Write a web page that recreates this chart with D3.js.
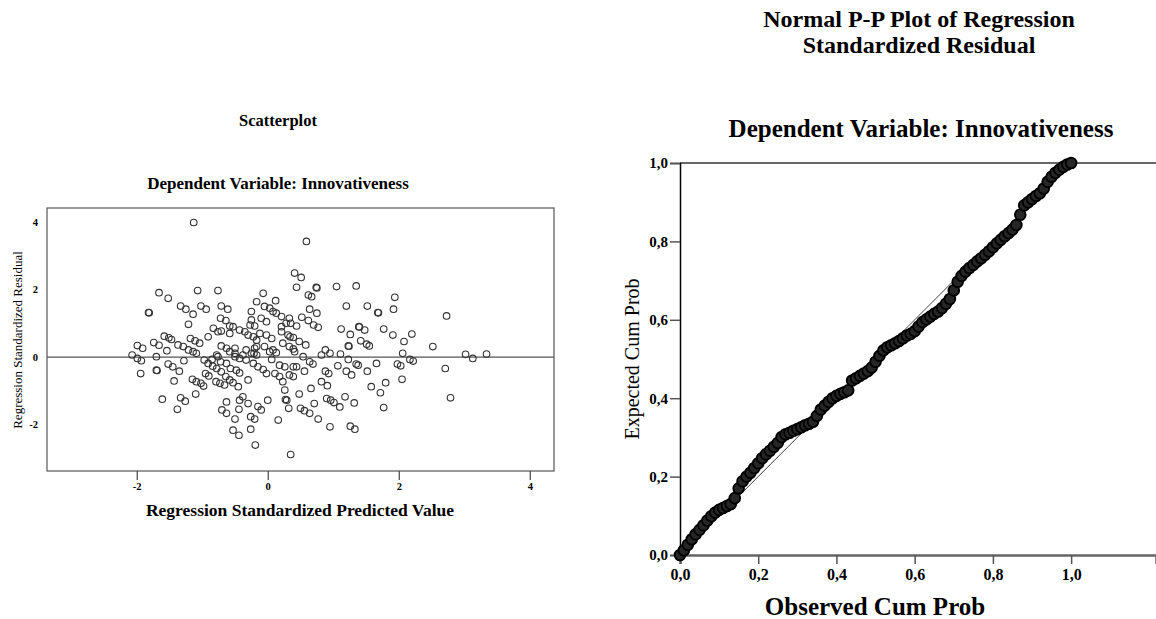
<!DOCTYPE html>
<html>
<head>
<meta charset="utf-8">
<script src="https://cdn.jsdelivr.net/npm/d3@7"></script>
<style>
  body { margin: 0; background: #fff; }
  svg { display: block; font-family: "Liberation Serif", "Times New Roman", serif; }
</style>
</head>
<body>
<div id="chart"></div>
<script>
// scatterplot: standardized predicted value vs standardized residual
const predicted = [
  -1.13,-1.66,-1.52,-1.82,-1.81,-1.07,-0.76,-1.33,-1.25,-1.14,-1.21,-1.02,-0.94,-0.71,-0.61,-0.72,-0.64,-0.25,-0.07,-0.17,
  0.12,-0.05,0.03,0.08,0.13,0.21,-0.25,-0.10,-0.02,-0.27,-0.20,-0.58,-0.53,-0.83,-0.76,-0.71,-0.58,-0.43,-0.35,-0.30,
  -0.22,-0.17,-0.12,-0.02,0.06,0.21,0.28,0.33,0.21,0.31,0.39,0.23,0.33,0.41,0.08,0.13,0.03,-0.05,-0.17,-0.20,
  -0.33,-0.25,-0.17,-0.38,-0.50,-0.50,-0.71,-0.63,-0.58,-0.78,-0.76,-0.91,-1.18,-1.11,-1.04,-1.37,-1.29,-1.21,-1.14,-1.09,
  -1.58,-1.51,-1.47,-1.74,-1.66,-1.54,-1.99,-1.91,-2.07,-1.99,-1.93,-1.94,-1.70,-1.70,-1.69,-1.52,-1.45,-1.35,-1.43,-1.28,
  -1.61,-1.33,-1.26,-1.38,-1.15,-1.09,-1.02,-0.98,-1.10,-0.95,-0.90,-0.97,-0.91,-0.84,-0.78,-0.71,-0.64,-0.58,-0.53,-0.45,
  -0.79,-0.73,-0.66,-0.85,-0.72,-0.63,-0.57,-0.48,-0.43,-0.30,-0.50,-0.43,-0.33,-0.22,-0.15,-0.07,-0.02,0.11,0.18,0.23,
  0.26,0.33,0.39,0.06,0.18,0.26,-0.21,-0.38,-0.43,-0.30,-0.63,-0.70,-0.63,-0.44,-0.50,-0.26,-0.20,-0.15,-0.10,0.00,
  0.16,0.27,0.32,-0.53,-0.44,-0.26,-0.19,0.35,
  0.59,0.41,0.51,0.44,0.74,0.75,1.05,1.35,0.62,0.67,0.64,0.75,0.52,0.62,0.35,0.44,0.70,0.77,1.20,1.52,
  1.68,1.69,1.94,1.92,1.12,1.26,1.39,1.40,1.48,1.42,1.51,1.55,1.23,1.24,1.77,1.91,2.08,2.20,2.73,2.52,
  3.02,3.13,3.34,2.06,2.17,2.22,1.98,2.03,2.05,2.71,2.79,0.88,0.95,1.11,0.82,1.23,1.35,1.38,1.66,1.07,
  1.20,1.28,1.52,0.88,0.93,0.69,0.64,0.54,0.39,0.58,0.48,0.34,0.44,0.56,0.39,0.82,0.91,0.66,0.48,0.29,
  0.71,0.90,0.96,1.01,1.10,1.18,1.32,1.58,1.72,1.80,1.77,0.50,0.56,0.64,0.77,0.95,1.26,1.33
];
const residual = [
  3.99,1.91,1.74,1.32,1.31,1.97,1.97,1.51,1.42,1.27,0.97,1.51,1.42,1.51,1.42,1.15,1.08,1.35,1.89,1.64,
  1.67,1.50,1.45,1.35,1.30,1.20,1.10,1.15,1.05,0.95,0.92,0.92,0.90,0.85,0.75,0.77,0.70,0.80,0.75,0.65,
  0.60,0.50,0.70,0.65,0.55,0.90,1.00,1.15,0.75,0.65,0.58,0.41,0.31,0.16,0.21,0.13,0.16,0.31,0.31,0.26,
  0.21,0.11,0.06,0.06,0.11,0.26,0.33,0.26,0.16,0.06,0.01,0.60,0.55,0.48,0.41,0.36,0.31,0.21,0.16,0.11,
  0.62,0.57,0.52,0.43,0.35,0.19,0.34,0.26,0.06,-0.04,-0.11,-0.49,0.01,-0.39,-0.40,-0.21,-0.29,-0.42,-0.71,-0.11,
  -1.25,-1.21,-1.31,-1.55,-0.66,-0.73,-0.78,-0.86,-1.10,-0.49,-0.56,-0.09,-0.19,-0.27,-0.34,-0.44,-0.58,-0.68,-0.76,-0.88,
  -0.73,-0.78,-0.83,-0.07,-0.14,-0.19,-0.34,-0.39,-0.47,-0.68,0.01,-0.04,-0.09,-0.19,-0.29,-0.37,-0.49,-0.49,-0.58,-0.73,
  -0.98,-0.53,-0.29,-0.07,-0.24,-0.29,0.11,-1.18,-1.28,-1.38,-1.33,-1.57,-1.67,-1.55,-1.84,-1.77,-1.84,-1.47,-1.57,-1.28,
  -1.87,-1.26,-1.52,-2.17,-2.32,-2.14,-2.61,-2.89,
  3.43,2.49,2.36,2.07,2.07,2.05,2.09,2.11,1.84,1.79,1.42,1.30,1.18,1.08,1.00,0.92,0.95,0.88,1.51,1.51,
  1.32,1.31,1.77,1.42,0.83,0.67,0.90,0.89,0.80,0.48,0.38,0.33,0.33,0.32,0.83,0.65,0.46,0.68,1.22,0.31,
  0.08,-0.04,0.09,0.11,-0.07,-0.12,-0.21,-0.26,-0.66,-0.34,-1.21,0.21,0.11,0.09,0.06,-0.07,-0.21,-0.24,-0.19,-0.26,
  -0.42,-0.53,-0.42,-0.42,-0.49,-0.21,-0.14,0.01,0.24,0.36,0.46,0.60,-0.29,-0.42,-0.58,-0.73,-0.85,-0.93,-1.10,-1.28,
  -1.38,-1.23,-1.28,-1.35,-1.48,-1.18,-1.36,-0.88,-1.06,-0.76,-1.50,-1.52,-1.59,-1.67,-1.84,-2.07,-2.05,-2.14
];
const scatterTicksX = [-2, 0, 2, 4];
const scatterTicksY = [-2, 0, 2, 4];

// normal P-P plot
const observedCum = [
  0.00,0.01,0.02,0.03,0.04,0.05,0.06,0.07,0.08,0.09,0.10,0.11,0.12,0.13,0.14,0.15,0.16,0.17,0.18,0.19,
  0.20,0.21,0.22,0.23,0.24,0.25,0.26,0.27,0.28,0.29,0.30,0.31,0.32,0.33,0.34,0.35,0.36,0.37,0.38,0.39,
  0.40,0.41,0.42,0.43,0.44,0.45,0.46,0.47,0.48,0.49,0.50,0.51,0.52,0.53,0.54,0.55,0.56,0.57,0.58,0.59,
  0.60,0.61,0.62,0.63,0.64,0.65,0.66,0.67,0.68,0.69,0.70,0.71,0.72,0.73,0.74,0.75,0.76,0.77,0.78,0.79,
  0.80,0.81,0.82,0.83,0.84,0.85,0.86,0.87,0.88,0.89,0.90,0.91,0.92,0.93,0.94,0.95,0.96,0.97,0.98,0.99,1.00
];
const expectedCum = [
  0.000,0.012,0.026,0.040,0.053,0.064,0.076,0.088,0.099,0.108,0.115,0.120,0.125,0.130,0.145,0.170,0.188,0.200,0.210,0.222,
  0.234,0.247,0.257,0.266,0.276,0.286,0.301,0.308,0.312,0.317,0.321,0.326,0.331,0.335,0.340,0.355,0.371,0.381,0.391,0.400,
  0.406,0.411,0.415,0.420,0.445,0.451,0.457,0.463,0.469,0.478,0.493,0.508,0.522,0.530,0.535,0.540,0.546,0.553,0.560,0.564,
  0.571,0.583,0.594,0.601,0.608,0.615,0.621,0.630,0.641,0.653,0.675,0.697,0.712,0.723,0.732,0.740,0.749,0.757,0.766,0.775,
  0.785,0.795,0.804,0.813,0.821,0.830,0.842,0.868,0.892,0.900,0.908,0.916,0.923,0.935,0.952,0.965,0.975,0.983,0.990,0.996,1.000
];
const ppTicks = [0, 0.2, 0.4, 0.6, 0.8, 1.0];

const W = 1156, H = 619;
const svg = d3.select("#chart").append("svg").attr("width", W).attr("height", H);

const commaFmt = d => d3.format(".1f")(d).replace(".", ",");

// ---------- left: scatterplot ----------
let sx = d3.scaleLinear().domain([-3.37, 4.37]).range([47, 554]);
let sy = d3.scaleLinear().domain([-3.38, 4.42]).range([471, 208]);

let left = svg.append("g");

left.append("text").attr("x", 278).attr("y", 126).attr("text-anchor", "middle")
    .attr("font-weight", "bold").attr("font-size", 16.5).text("Scatterplot");
left.append("text").attr("x", 278).attr("y", 189).attr("text-anchor", "middle")
    .attr("font-weight", "bold").attr("font-size", 17).text("Dependent Variable: Innovativeness");

left.append("rect")
    .attr("x", sx.range()[0]).attr("y", sy.range()[1])
    .attr("width", sx.range()[1] - sx.range()[0]).attr("height", sy.range()[0] - sy.range()[1])
    .attr("fill", "none").attr("stroke", "#555").attr("stroke-width", 1.2);

left.append("line")
    .attr("x1", sx.range()[0]).attr("x2", sx.range()[1])
    .attr("y1", sy(0)).attr("y2", sy(0))
    .attr("stroke", "#555").attr("stroke-width", 1.2);

let sxAxis = left.append("g").attr("transform", "translate(0," + sy.range()[0] + ")")
    .call(d3.axisBottom(sx).tickValues(scatterTicksX).tickSize(9).tickPadding(3).tickFormat(d => String(d)));
sxAxis.select(".domain").remove();
sxAxis.selectAll("line").attr("stroke", "#444").attr("stroke-width", 1.2);
sxAxis.selectAll("text").attr("font-family", "Liberation Serif").attr("font-weight", "bold")
    .attr("font-size", 10.5).attr("fill", "#000");

let syAxis = left.append("g").attr("transform", "translate(" + sx.range()[0] + ",0)")
    .call(d3.axisLeft(sy).tickValues(scatterTicksY).tickSize(0).tickPadding(9).tickFormat(d => String(d)));
syAxis.select(".domain").remove();
syAxis.selectAll("text").attr("font-family", "Liberation Serif").attr("font-weight", "bold")
    .attr("font-size", 10.5).attr("fill", "#000");

left.append("text").attr("x", 300).attr("y", 516).attr("text-anchor", "middle")
    .attr("font-weight", "bold").attr("font-size", 17.5).text("Regression Standardized Predicted Value");
left.append("text").attr("transform", "translate(22,340) rotate(-90)").attr("text-anchor", "middle")
    .attr("font-size", 13).text("Regression Standardized Residual");

let scatterData = predicted.map((d, i) => ({x: d, y: residual[i]}));
left.append("g").selectAll("circle")
    .data(scatterData)
    .enter().append("circle")
    .attr("cx", d => sx(d.x))
    .attr("cy", d => sy(d.y))
    .attr("r", 3.3)
    .attr("fill", "none")
    .attr("stroke", "#333")
    .attr("stroke-width", 1.1);

// ---------- right: normal P-P plot ----------
let px = d3.scaleLinear().domain([0, 1.217]).range([680, 1156]);
let py = d3.scaleLinear().domain([0, 1]).range([555, 163]);

let right = svg.append("g");

right.append("text").attr("x", 919).attr("y", 27).attr("text-anchor", "middle")
    .attr("font-weight", "bold").attr("font-size", 24).text("Normal P-P Plot of Regression");
right.append("text").attr("x", 919).attr("y", 53).attr("text-anchor", "middle")
    .attr("font-weight", "bold").attr("font-size", 24).text("Standardized Residual");
right.append("text").attr("x", 921).attr("y", 137).attr("text-anchor", "middle")
    .attr("font-weight", "bold").attr("font-size", 25).text("Dependent Variable: Innovativeness");

// top frame line
right.append("line")
    .attr("x1", px.range()[0]).attr("x2", px.range()[1])
    .attr("y1", py(1)).attr("y2", py(1))
    .attr("stroke", "#666").attr("stroke-width", 2);

let pxAxis = right.append("g").attr("transform", "translate(0," + py(0) + ")")
    .call(d3.axisBottom(px).tickValues(ppTicks).tickSize(9).tickPadding(5).tickFormat(commaFmt));
pxAxis.select(".domain").attr("stroke", "#666").attr("stroke-width", 2.5);
pxAxis.selectAll("line").attr("stroke", "#555").attr("stroke-width", 1.5);
pxAxis.selectAll("text").attr("font-family", "Liberation Serif").attr("font-weight", "bold")
    .attr("font-size", 16).attr("fill", "#000");

let pyAxis = right.append("g").attr("transform", "translate(" + px(0) + ",0)")
    .call(d3.axisLeft(py).tickValues(ppTicks).tickSize(10).tickPadding(2).tickFormat(commaFmt));
pyAxis.select(".domain").attr("stroke", "#000").attr("stroke-width", 1.5);
pyAxis.selectAll("line").attr("stroke", "#555").attr("stroke-width", 1.5);
pyAxis.selectAll("text").attr("font-family", "Liberation Serif").attr("font-weight", "bold")
    .attr("font-size", 15).attr("fill", "#000");

right.append("text").attr("x", 875).attr("y", 615).attr("text-anchor", "middle")
    .attr("font-weight", "bold").attr("font-size", 25).text("Observed Cum Prob");
right.append("text").attr("transform", "translate(639,359) rotate(-90)").attr("text-anchor", "middle")
    .attr("font-size", 20).text("Expected Cum Prob");

// diagonal reference line
right.append("line")
    .attr("x1", px(0)).attr("y1", py(0))
    .attr("x2", px(1)).attr("y2", py(1))
    .attr("stroke", "#444").attr("stroke-width", 1);

let ppData = observedCum.map((d, i) => ({x: d, y: expectedCum[i]}));
right.append("g").selectAll("circle")
    .data(ppData)
    .enter().append("circle")
    .attr("cx", d => px(d.x))
    .attr("cy", d => py(d.y))
    .attr("r", 5.4)
    .attr("fill", "#262626")
    .attr("stroke", "#000")
    .attr("stroke-width", 1.8);
</script>
</body>
</html>
